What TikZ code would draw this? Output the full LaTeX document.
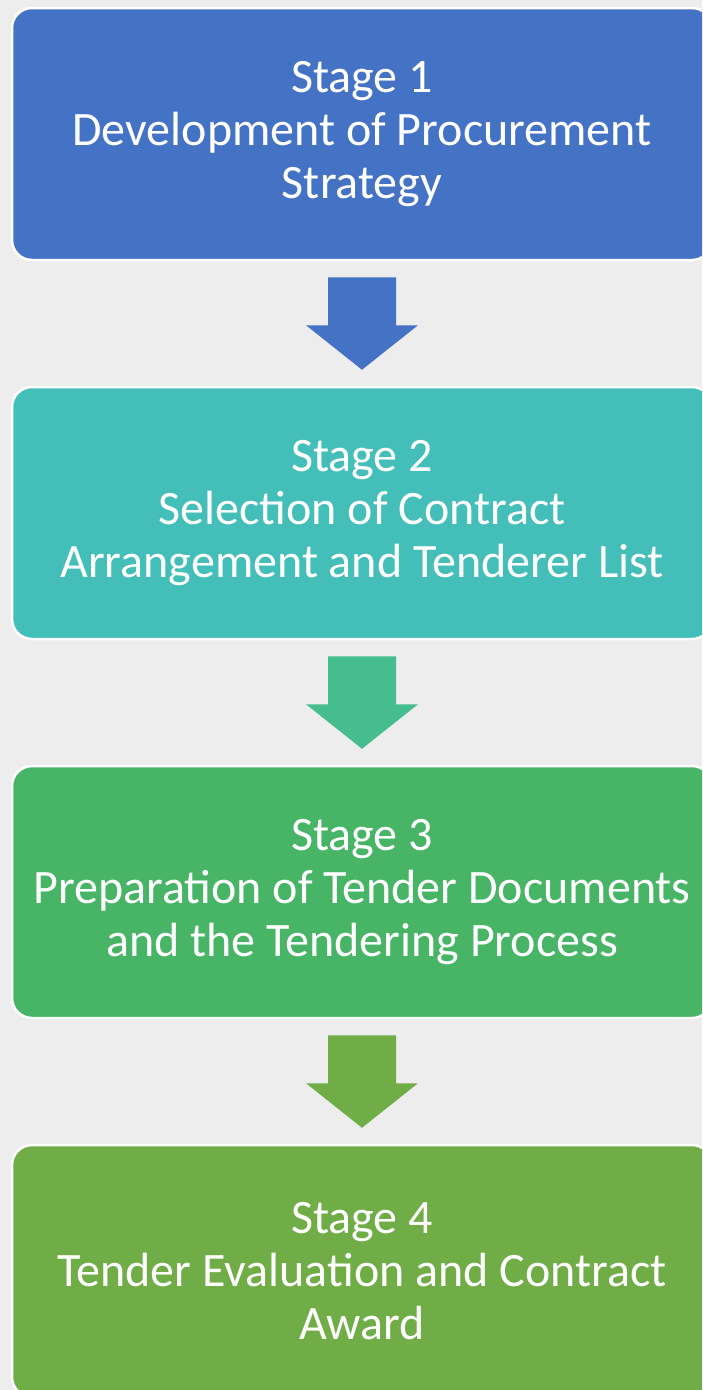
\documentclass[tikz,border=0pt]{standalone}
\usepackage{fontspec}
\setmainfont{Carlito}
\usetikzlibrary{calc}
\definecolor{bg}{HTML}{EDEDED}
\definecolor{cA}{HTML}{4472C4}
\definecolor{cB}{HTML}{44BEB9}
\definecolor{cBC}{HTML}{45BD8E}
\definecolor{cC}{HTML}{47B565}
\definecolor{cD}{HTML}{70AD47}
\tikzset{
  stagebox/.style={rectangle, rounded corners=20pt, draw=white, line width=2.5pt,
    minimum width=700pt, minimum height=252pt, text=white, align=center,
    font=\fontsize{48}{53}\selectfont, inner sep=0pt}
}
% separate t and i so that no "ti" ligature is formed
\newcommand{\tsep}{\kern0pt}
% block arrow from the bottom of one stage to the top of the next
\newcommand{\blockarrow}[3]{%
  \fill[#3] ($(#1.south)+(-34,16)$) -- ($(#1.south)+(34,16)$) -- ($(#1.south)+(34,64)$)
    -- ($(#1.south)+(56,64)$) -- ($(#2.north)+(0,-16)$) -- ($(#1.south)+(-56,64)$)
    -- ($(#1.south)+(-34,64)$) -- cycle;}
\begin{document}
\begin{tikzpicture}[x=1pt,y=-1pt]
  \useasboundingbox (0,0) rectangle (702,1390);
  \fill[bg] (0,0) rectangle (702,1390);
  \clip (0,0) rectangle (702,1390);
  \node[stagebox, fill=cA] (s1) at (362,134) {Stage 1\\Development of Procurement\\Strategy};
  \node[stagebox, fill=cB] (s2) at (362,513) {Stage 2\\Selec\tsep tion of Contract\\Arrangement and Tenderer List};
  \node[stagebox, fill=cC] (s3) at (362,892) {Stage 3\\Preparation of Tender Documents\\and the Tendering Process};
  \node[stagebox, fill=cD] (s4) at (362,1271) {Stage 4\\Tender Evalua\tsep tion and Contract\\Award};
  \blockarrow{s1}{s2}{cA}
  \blockarrow{s2}{s3}{cBC}
  \blockarrow{s3}{s4}{cD}
\end{tikzpicture}
\end{document}
